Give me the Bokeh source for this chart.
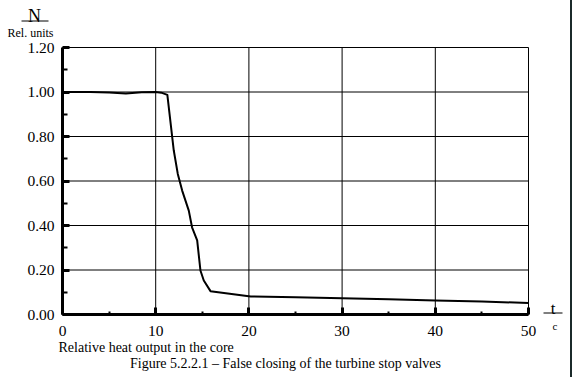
from bokeh.plotting import figure
from bokeh.models import Range1d, FixedTicker, NumeralTickFormatter, Label, Div
from bokeh.layouts import row
from bokeh.embed import file_html
from bokeh.resources import INLINE

# Data
t = [0, 3, 5, 6.8, 8.5, 10, 10.6, 11.25, 11.94, 12.37, 12.84, 13.55, 13.9,
     14.45, 14.8, 15.16, 15.88, 20.2, 25, 30, 35, 40, 45, 50]
N = [1.0, 1.0, 0.998, 0.993, 0.999, 1.0, 0.997, 0.987, 0.737, 0.632, 0.557,
     0.467, 0.392, 0.333, 0.198, 0.153, 0.105, 0.081, 0.077, 0.073, 0.068,
     0.063, 0.058, 0.052]
x_ticks = [0, 10, 20, 30, 40, 50]
x_minor = [5, 15, 25, 35, 45]
y_ticks = [0.0, 0.2, 0.4, 0.6, 0.8, 1.0, 1.2]
y_minor = [0.1, 0.3, 0.5, 0.7, 0.9, 1.1]
X_MIN, X_MAX = 0, 50
Y_MIN, Y_MAX = 0.0, 1.2

FONT = "Liberation Serif"
W, H = 570, 377
LEFT, RIGHT, TOP, BOTTOM = 62, 528, 47, 314      # plot area in pixels
sx = (RIGHT - LEFT) / (X_MAX - X_MIN)
sy = (BOTTOM - TOP) / (Y_MAX - Y_MIN)

def X(px):
    return X_MIN + (px - LEFT) / sx

def Y(py):
    return Y_MIN + (BOTTOM - py) / sy

p = figure(width=W, height=H, output_backend="svg", toolbar_location=None,
           x_range=Range1d(X(0), X(W)), y_range=Range1d(Y(H), Y(0)),
           min_border=0, min_border_left=0, min_border_right=0,
           min_border_top=0, min_border_bottom=0)
p.background_fill_color = "white"
p.border_fill_color = "white"
p.outline_line_color = None
p.xgrid.visible = False
p.ygrid.visible = False

p.xaxis.ticker = FixedTicker(ticks=x_ticks, minor_ticks=x_minor)
p.yaxis.ticker = FixedTicker(ticks=y_ticks, minor_ticks=y_minor)
p.yaxis.formatter = NumeralTickFormatter(format="0.00")
p.xaxis.bounds = (X_MIN, X_MAX)
p.yaxis.bounds = (Y_MIN, Y_MAX)
p.xaxis.fixed_location = Y_MIN
p.yaxis.fixed_location = X_MIN

# grid lines (drawn from the tick arrays) including the top/right frame
p.segment(x0=x_ticks, x1=x_ticks, y0=[Y_MIN] * len(x_ticks), y1=[Y_MAX] * len(x_ticks),
          line_color="black", line_width=1)
p.segment(x0=[X_MIN] * len(y_ticks), x1=[X_MAX] * len(y_ticks), y0=y_ticks, y1=y_ticks,
          line_color="black", line_width=1)

p.line(t, N, line_color="black", line_width=2, line_join="round")

for ax in (p.xaxis, p.yaxis):
    ax.axis_line_width = 3
    ax.axis_line_color = "black"
    ax.major_tick_in = 7
    ax.major_tick_out = 0
    ax.major_tick_line_width = 3
    ax.minor_tick_out = 0
    ax.minor_tick_line_width = 2
    ax.major_label_text_font = FONT
    ax.major_label_text_font_size = "15.5px"
    ax.major_label_text_color = "black"
p.xaxis.minor_tick_in = 3
p.yaxis.minor_tick_in = 5
p.xaxis.major_label_standoff = 11
p.yaxis.major_label_standoff = 8

SHIFT = 4.5  # compensate the label baseline offset

def lab(px, py, text, size, align="center"):
    p.add_layout(Label(x=X(px), y=Y(py - SHIFT), text=text, text_font=FONT,
                       text_font_size=size, text_align=align,
                       text_baseline="alphabetic", text_color="black"))

lab(34, 20, "N", "18px")
lab(30, 37, "Rel. units", "12px")
lab(552.5, 312, "t", "17px")
lab(554.5, 329.5, "c", "11px")
lab(58, 351.5, "Relative heat output in the core", "14px", align="left")
lab(285, 367, "Figure 5.2.2.1 \u2013 False closing of the turbine stop valves", "14px")

# underlines of the unit fractions
p.segment(x0=[X(21), X(543)], x1=[X(48), X(562)], y0=[Y(20.5), Y(312.5)],
          y1=[Y(20.5), Y(312.5)], line_color="black", line_width=1)

edge = Div(width=2, height=H, margin=0, styles={"background-color": "#1b2a2a"})
layout = row(p, edge, spacing=0)

open("out.html", "w").write(file_html(layout, INLINE))
